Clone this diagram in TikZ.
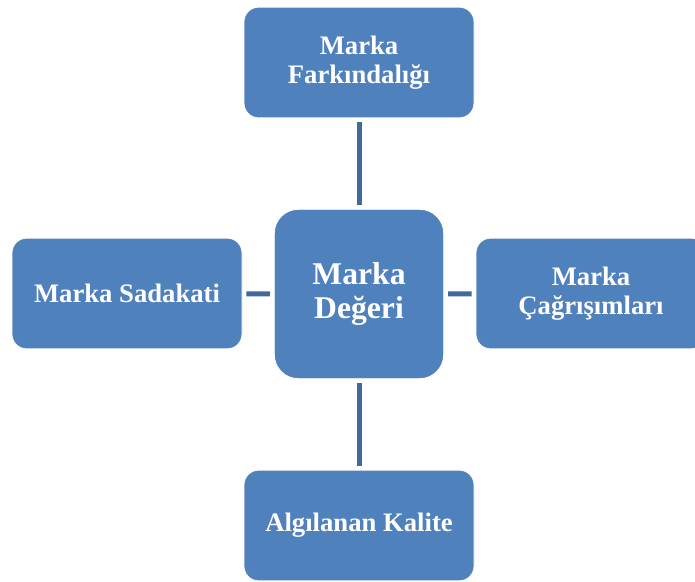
\documentclass[tikz,border=0pt]{standalone}
\usepackage{fontspec}
\setmainfont{Liberation Serif}
\definecolor{boxblue}{HTML}{4F81BD}
\definecolor{linkblue}{HTML}{41699A}
\begin{document}
\begin{tikzpicture}[x=0.75pt, y=-0.75pt,
  box/.style={fill=boxblue, draw=white, line width=0.6pt, rounded corners=11pt,
    minimum width=172.5pt, minimum height=83pt, inner sep=0pt, align=center,
    text=white, font=\bfseries\fontsize{20}{21.75}\selectfont},
  bigbox/.style={box, rounded corners=18pt, minimum width=127pt, minimum height=127pt,
    font=\bfseries\fontsize{23.75}{25}\selectfont},
  link/.style={draw=linkblue, line width=3.75pt, shorten <=3pt, shorten >=3pt}]
\useasboundingbox (0,0) rectangle (695,581);

% Boxes
\node[bigbox] (mid) at (359,294) {Marka\\Değeri};
\node[box] (top) at (359,62.5) {Marka\\Farkındalığı};
\node[box] (left) at (127,293.5) {Marka Sadakati};
\node[box] (right) at (591,293.5) {Marka\\Çağrışımları};
\node[box] (bottom) at (359,525.5) {Algılanan Kalite};

% Connectors
\draw[link] (top) -- (mid);
\draw[link] (left) -- (mid);
\draw[link] (right) -- (mid);
\draw[link] (bottom) -- (mid);
\end{tikzpicture}
\end{document}
